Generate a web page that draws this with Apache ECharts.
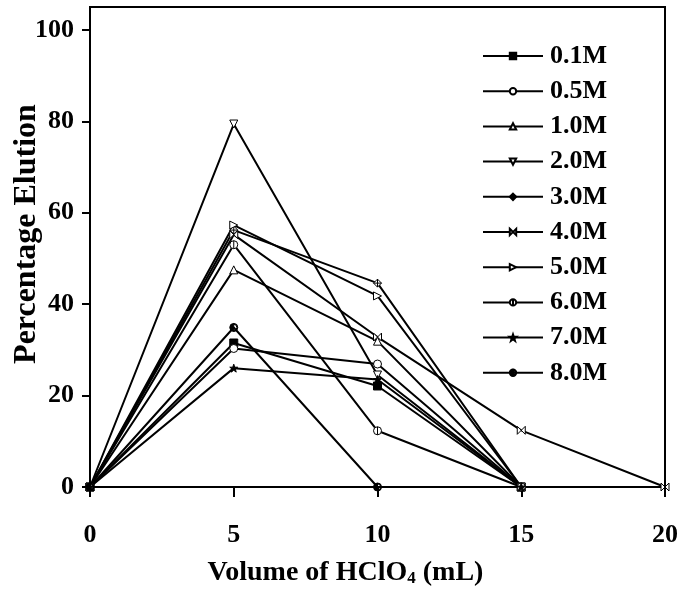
<!DOCTYPE html>
<html>
<head>
<meta charset="utf-8">
<script src="https://cdn.jsdelivr.net/npm/echarts@6/dist/echarts.min.js"></script>
<style>
  html, body { margin: 0; padding: 0; background: #fff; }
  #chart { width: 681px; height: 596px; }
</style>
</head>
<body>
<div id="chart"></div>
<script>
// volume of HClO4 (mL) on the x axis
const volume = [0, 5, 10, 15, 20];
const yTicks = [0, 20, 40, 60, 80, 100];

// percentage elution for each acid concentration
const conc = ['0.1M', '0.5M', '1.0M', '2.0M', '3.0M', '4.0M', '5.0M', '6.0M', '7.0M', '8.0M'];
const elution01 = [0, 31.5, 22.1, 0];
const elution05 = [0, 30.3, 26.9, 0];
const elution10 = [0, 47.5, 31.9, 0];
const elution20 = [0, 79.4, 24.5, 0];
const elution30 = [0, 56.2, 44.6, 0];
const elution40 = [0, 55.2, 32.8, 12.4, 0];
const elution50 = [0, 57.3, 41.8, 0];
const elution60 = [0, 53.0, 12.3, 0];
const elution70 = [0, 26.0, 23.5, 0];
const elution80 = [0, 34.9, 0];

const FONT = '"Liberation Serif", "Times New Roman", serif';

// marker for each series: [symbol, fill, rotate]
const markers = [
  ['rect', '#000', 0],
  ['circle', '#fff', 0],
  ['triangle', '#fff', 0],
  ['triangle', '#fff', 180],
  ['path://M0,-1L1,0L0,1L-1,0Z M-1,0L1,0 M0,-1L0,1', '#fff', 0],
  ['path://M-1,-1L1,1L1,-1L-1,1Z', '#fff', 0],
  ['triangle', '#fff', -90],
  ['path://M0,-1A1,1 0 1,1 0,1A1,1 0 1,1 0,-1Z M0,-1L0,1', '#fff', 0],
  ['path://M0,-1L0.24,-0.31L0.95,-0.31L0.38,0.12L0.59,0.81L0,0.38L-0.59,0.81L-0.38,0.12L-0.95,-0.31L-0.24,-0.31Z', '#000', 0],
  ['path://M0,-1A1,1 0 0,0 0,1Z M0,-1A1,1 0 0,1 0,1L0,0.78A0.78,0.78 0 0,0 0,-0.78Z', '#000', 0]
];

const allData = [elution01, elution05, elution10, elution20, elution30,
                 elution40, elution50, elution60, elution70, elution80];

const chart = echarts.init(document.getElementById('chart'));

const series = conc.map((name, i) => ({
  name: name,
  type: 'line',
  data: allData[i].map((v, j) => [volume[j], v]),
  symbol: markers[i][0],
  symbolRotate: markers[i][2],
  symbolSize: 8,
  showAllSymbol: true,
  lineStyle: { color: '#000', width: 2 },
  itemStyle: { color: markers[i][1], borderColor: '#000', borderWidth: 1 },
  emphasis: { disabled: true },
  z: 2
}));

chart.setOption({
  animation: false,
  textStyle: { fontFamily: FONT },
  grid: {
    left: 90, right: 16, top: 7, bottom: 109,
    outerBoundsMode: 'none',
    containLabel: false,
    show: true, borderColor: '#000', borderWidth: 2, backgroundColor: 'transparent'
  },
  legend: {
    orient: 'vertical',
    left: 482,
    top: 43,
    padding: 0,
    itemWidth: 60,
    itemHeight: 8,
    itemGap: 9.2,
    data: conc,
    textStyle: {
      fontFamily: FONT, fontWeight: 'bold', fontSize: 26, color: '#000',
      lineHeight: 26, padding: [0, 0, 0, 2]
    }
  },
  xAxis: {
    type: 'value',
    min: 0, max: 20, interval: 5,
    name: 'Volume of HClO{sub|4} (mL)',
    nameLocation: 'middle',
    nameGap: 72,
    nameMoveOverlap: false,
    nameTextStyle: {
      fontFamily: FONT, fontWeight: 'bold', fontSize: 28, color: '#000',
      padding: [0, 64, 0, 0],
      rich: {
        sub: { fontFamily: FONT, fontWeight: 'bold', fontSize: 17, color: '#000', verticalAlign: 'bottom', lineHeight: 16, padding: [10, 0, 0, 0] }
      }
    },
    axisLine: { lineStyle: { color: '#000', width: 2 } },
    axisTick: { inside: false, length: 10, lineStyle: { color: '#000', width: 2 } },
    axisLabel: {
      margin: 35, fontFamily: FONT, fontWeight: 'bold', fontSize: 26, color: '#000'
    },
    splitLine: { show: false }
  },
  yAxis: {
    type: 'value',
    min: 0, max: 105, interval: 20,
    name: 'Percentage Elution',
    nameLocation: 'middle',
    nameGap: 47,
    nameMoveOverlap: false,
    nameTextStyle: {
      fontFamily: FONT, fontWeight: 'bold', fontSize: 32, color: '#000',
      padding: [0, 0, 0, 26]
    },
    axisLine: { lineStyle: { color: '#000', width: 2 } },
    axisTick: { inside: false, length: 8, customValues: yTicks, lineStyle: { color: '#000', width: 2 } },
    axisLabel: {
      margin: 16, customValues: yTicks,
      fontFamily: FONT, fontWeight: 'bold', fontSize: 26, color: '#000'
    },
    splitLine: { show: false }
  },
  series: series
});
</script>
</body>
</html>
